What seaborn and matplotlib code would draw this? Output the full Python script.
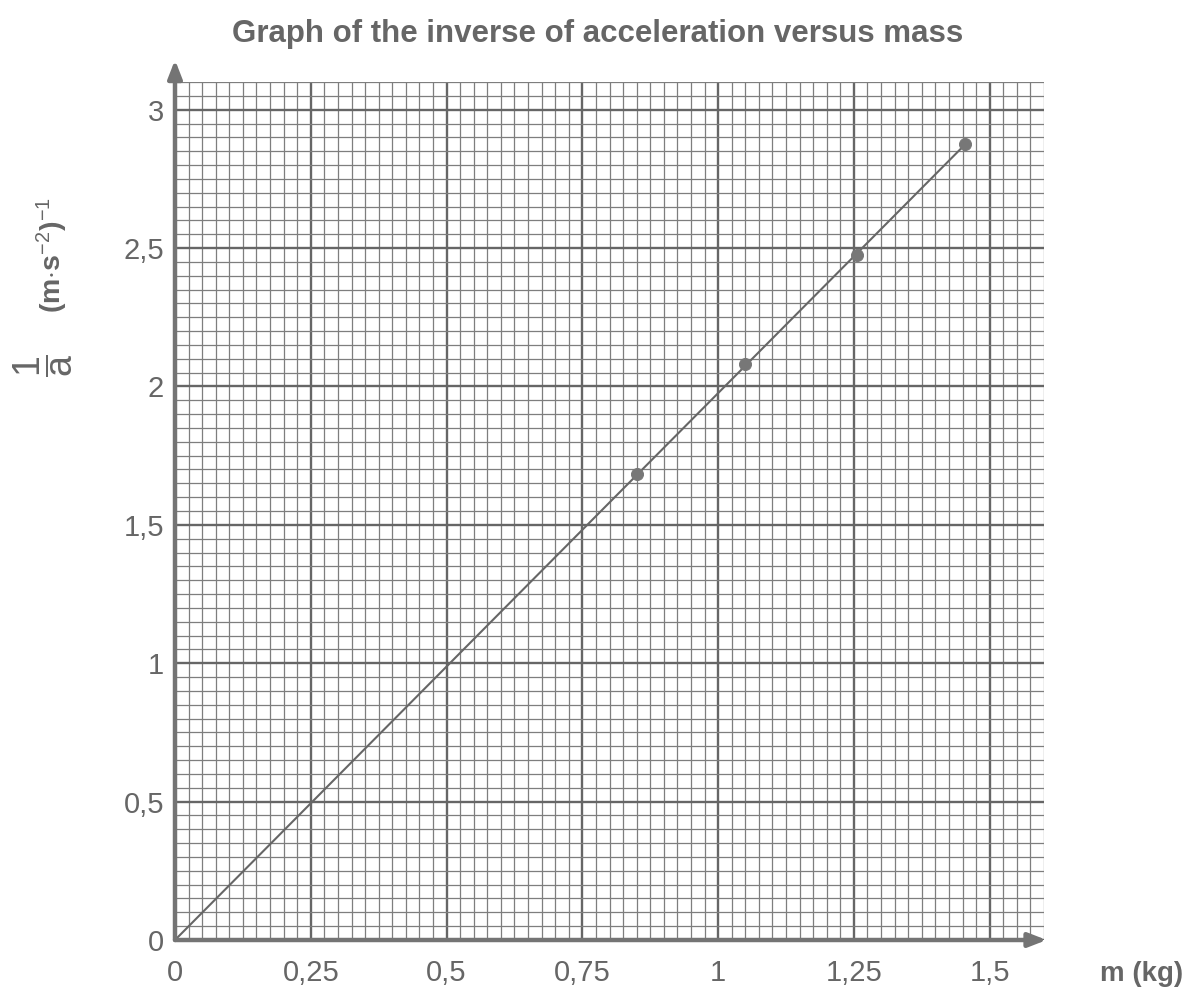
import numpy as np
import matplotlib
matplotlib.use("Agg")
import matplotlib.pyplot as plt
import seaborn as sns
import pandas as pd

# ---- data ----
mass = [0.85, 1.05, 1.255, 1.455]          # m (kg)
inv_acc = [1.685, 2.08, 2.475, 2.875]      # 1/a (m·s^-2)^-1
fit_x = [0.0, 1.455]
fit_y = [0.0, 2.875]
x_ticks = [0, 0.25, 0.5, 0.75, 1, 1.25, 1.5]
x_labels = ["0", "0,25", "0,5", "0,75", "1", "1,25", "1,5"]
y_ticks = [0, 0.5, 1, 1.5, 2, 2.5, 3]
y_labels = ["0", "0,5", "1", "1,5", "2", "2,5", "3"]

sns.set_theme(style="white")
plt.rcParams['font.family'] = ['Liberation Sans', 'DejaVu Sans']
plt.rcParams['mathtext.fontset'] = 'custom'
plt.rcParams['mathtext.rm'] = 'Liberation Sans'
plt.rcParams['mathtext.bf'] = 'Liberation Sans:bold'
plt.rcParams['mathtext.it'] = 'Liberation Sans'

txt = '#666666'
fig = plt.figure(figsize=(11.96, 9.94), dpi=100)
ax = fig.add_axes([175/1196, 54/994, 869/1196, 858/994])

XMAX, YMAX = 1.6, 3.1
ax.set_xlim(0, XMAX)
ax.set_ylim(0, YMAX)

# grid (graph paper)
ax.set_xticks(x_ticks)
ax.set_yticks(y_ticks)
ax.set_xticks(np.arange(0, XMAX + 1e-9, 0.025), minor=True)
ax.set_yticks(np.arange(0, YMAX + 1e-9, 0.05), minor=True)
ax.grid(which='minor', color='#7e7e7e', linewidth=0.9)
ax.grid(which='major', color='#666666', linewidth=1.7)
ax.set_axisbelow(True)
ax.set_xticklabels(x_labels)
ax.set_yticklabels(y_labels)
ax.tick_params(which='both', length=0)
ax.tick_params(axis='x', pad=14, labelsize=21, labelcolor=txt)
ax.tick_params(axis='y', pad=8, labelsize=21, labelcolor=txt)

for s in ax.spines.values():
    s.set_visible(False)

# data
df = pd.DataFrame({"m": mass, "inv_a": inv_acc})
line_df = pd.DataFrame({"m": fit_x, "inv_a": fit_y})
sns.lineplot(data=line_df, x="m", y="inv_a", ax=ax, color='#666666', linewidth=1.5)
sns.scatterplot(data=df, x="m", y="inv_a", ax=ax, color='#777777', s=75,
                edgecolor='#777777', zorder=5)
ax.set_xlabel("")
ax.set_ylabel("")

# axes with arrows
arrow_kw = dict(arrowstyle='-|>,head_length=0.9,head_width=0.35',
                color='#747474', lw=3.2, shrinkA=0, shrinkB=0)
ax.annotate('', xy=(0, 3.18), xytext=(0, 0), arrowprops=arrow_kw,
            annotation_clip=False)
ax.annotate('', xy=(1.605, 0), xytext=(0, 0), arrowprops=arrow_kw,
            annotation_clip=False)

fig.text(0.5, 0.966, "Graph of the inverse of acceleration versus mass",
         ha='center', va='center', fontsize=22.5, fontweight='bold', color=txt)
fig.text(1142/1196, 1 - 974/994, "m (kg)", ha='center', va='center',
         fontsize=20, fontweight='bold', color=txt)
fig.text(43/1196, 1 - 366/994, r'$\dfrac{\mathrm{1}}{\mathrm{a}}$',
         rotation=90, ha='center', va='center', fontsize=27, color=txt)
fig.text(52/1196, 1 - 255/994, r'(m$\cdot$s$^{-2}$)$^{-1}$',
         rotation=90, ha='center', va='center', fontsize=20.5,
         fontweight='bold', color=txt)

fig.savefig("out.png", dpi=100, facecolor='white')
